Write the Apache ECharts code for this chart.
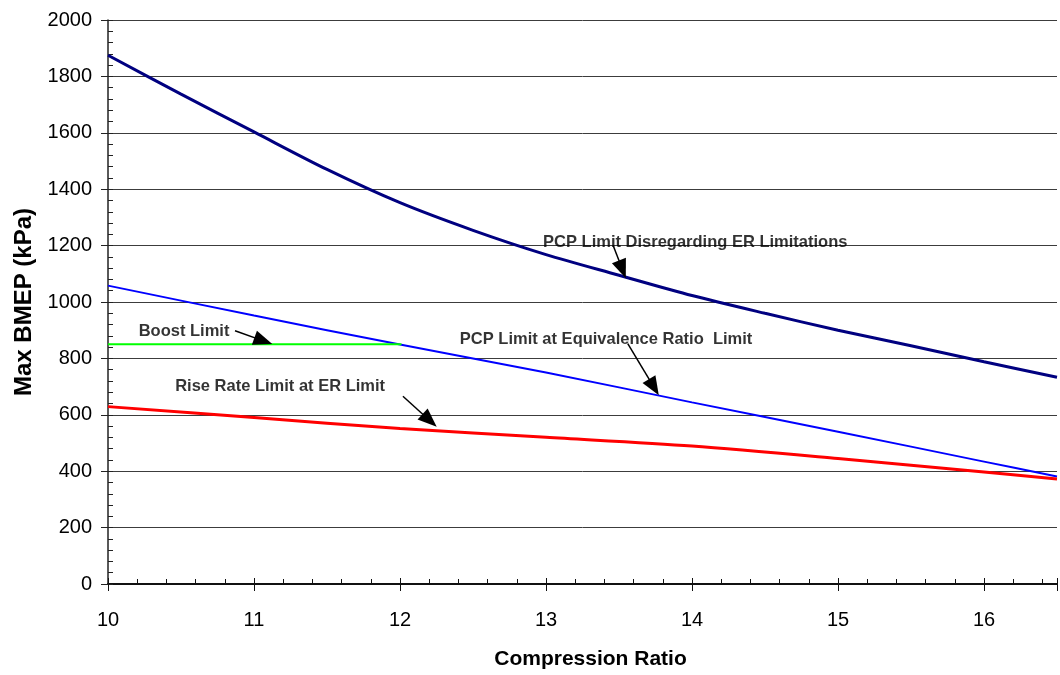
<!DOCTYPE html>
<html>
<head>
<meta charset="utf-8">
<script src="https://cdn.jsdelivr.net/npm/echarts@6/dist/echarts.min.js"></script>
<style>
html,body{margin:0;padding:0;background:#fff;}
#chart{width:1060px;height:675px;}
</style>
</head>
<body>
<div id="chart"></div>
<script>
// ---- data ----
const xTitle = 'Compression Ratio';
const yTitle = 'Max BMEP (kPa)';

const xNavy = [10, 10.5, 11, 11.5, 12, 12.5, 13, 13.5, 14, 14.5, 15, 15.5, 16, 16.5];
const pcpDisregarding = [1875, 1737, 1603, 1470, 1352, 1254, 1168, 1095, 1023, 960, 900, 845, 788, 733];

const xBlue = [10, 11, 12, 13, 14, 15, 16, 16.5];
const pcpAtER = [1058, 952, 849, 750, 644, 540, 434, 381];

const xBoost = [10, 12.01];
const boostLimit = [850, 850];

const xRed = [10, 11, 12, 13, 14, 15, 16, 16.5];
const riseRateAtER = [629, 590, 551, 520, 489, 445, 397, 372];

// annotation labels: text, left-anchor x, y (data units)
const noteTexts = ['Boost Limit', 'Rise Rate Limit at ER Limit', 'PCP Limit Disregarding ER Limitations', 'PCP Limit at Equivalence Ratio  Limit'];
const noteX = [10.21, 10.46, 12.98, 12.41];
const noteY = [894, 699, 1212, 867];
// arrows: from (x1,y1) to arrow-head centre (x2,y2), data units
const arrowX1 = [10.87, 12.02, 13.46, 13.56];
const arrowY1 = [898, 666, 1200, 852];
const arrowX2 = [11.064, 12.203, 13.523, 13.739];
const arrowY2 = [862, 580, 1116, 698];

const FONT = '"Liberation Sans", Arial, sans-serif';

function pairs(xs, ys) { return xs.map((x, i) => [x, ys[i]]); }

const chart = echarts.init(document.getElementById('chart'), null, {renderer: 'canvas'});

const option = {
  animation: false,
  backgroundColor: '#fff',
  textStyle: {fontFamily: FONT},
  grid: {left: 108, right: 2, top: 20, bottom: 89, containLabel: false},
  xAxis: [{
    type: 'value', min: 10, max: 16.5, interval: 1, position: 'bottom',
    name: xTitle, nameLocation: 'middle', nameGap: 65,
    nameTextStyle: {fontFamily: FONT, fontSize: 21, fontWeight: 'bold', color: '#000', padding: [0, 0, 0, 16]},
    axisLine: {show: true, lineStyle: {color: '#111', width: 2}},
    axisTick: {show: true, inside: true, length: 6, lineStyle: {color: '#111', width: 1}},
    minorTick: {show: true, splitNumber: 5, length: 5, lineStyle: {color: '#111', width: 1}},
    axisLabel: {fontFamily: FONT, fontSize: 20, color: '#000', margin: 26,
      formatter: v => (Number.isInteger(v) ? String(v) : '')},
    splitLine: {show: false}
  }, {
    type: 'value', min: 10, max: 16.5, interval: 1, position: 'bottom',
    axisLine: {show: false},
    axisTick: {show: true, inside: false, length: 7, lineStyle: {color: '#111', width: 1}},
    axisLabel: {show: false},
    splitLine: {show: false}
  }],
  yAxis: [{
    type: 'value', min: 0, max: 2000, interval: 200, position: 'left',
    name: yTitle, nameLocation: 'middle', nameGap: 68, nameRotate: 90,
    nameTextStyle: {fontFamily: FONT, fontSize: 24, fontWeight: 'bold', color: '#000'},
    axisLine: {show: true, lineStyle: {color: '#222', width: 1.5}},
    axisTick: {show: true, inside: true, length: 5, lineStyle: {color: '#222', width: 1}},
    minorTick: {show: true, splitNumber: 5, length: 5, lineStyle: {color: '#222', width: 1}},
    axisLabel: {fontFamily: FONT, fontSize: 20, color: '#000', margin: 16, formatter: v => String(v)},
    splitLine: {show: true, lineStyle: {color: '#3c3c3c', width: 1}}
  }, {
    type: 'value', min: 0, max: 2000, interval: 200, position: 'left',
    axisLine: {show: false},
    axisTick: {show: true, inside: false, length: 7, lineStyle: {color: '#222', width: 1}},
    axisLabel: {show: false},
    splitLine: {show: false}
  }],
  series: [
    {
      name: 'PCP Limit Disregarding ER Limitations', type: 'line',
      data: pairs(xNavy, pcpDisregarding), smooth: 0.3, showSymbol: false,
      lineStyle: {color: '#000080', width: 3}, silent: true, z: 3
    },
    {
      name: 'PCP Limit at Equivalence Ratio Limit', type: 'line',
      data: pairs(xBlue, pcpAtER), smooth: 0.3, showSymbol: false,
      lineStyle: {color: '#0000ff', width: 2}, silent: true, z: 3
    },
    {
      name: 'Boost Limit', type: 'line',
      data: pairs(xBoost, boostLimit), showSymbol: false,
      lineStyle: {color: '#00ff00', width: 2}, silent: true, z: 3
    },
    {
      name: 'Rise Rate Limit at ER Limit', type: 'line',
      data: pairs(xRed, riseRateAtER), smooth: 0.3, showSymbol: false,
      lineStyle: {color: '#ff0000', width: 3}, silent: true, z: 3
    },
    {
      name: 'notes', type: 'scatter', symbolSize: 0, silent: true, z: 5,
      data: noteTexts.map((t, i) => ({value: [noteX[i], noteY[i]], name: t})),
      label: {show: true, position: 'right', distance: 0, formatter: p => p.name,
        fontFamily: FONT, fontSize: 16.5, fontWeight: 'bold', color: '#000'},
      markLine: {
        silent: true, symbol: ['none', 'triangle'], symbolSize: [15, 19],
        label: {show: false},
        lineStyle: {color: '#000', width: 1.5, type: 'solid'},
        itemStyle: {color: '#000'},
        data: arrowX1.map((x, i) => [{coord: [x, arrowY1[i]]}, {coord: [arrowX2[i], arrowY2[i]]}])
      }
    }
  ]
};
chart.setOption(option);
</script>
</body>
</html>
